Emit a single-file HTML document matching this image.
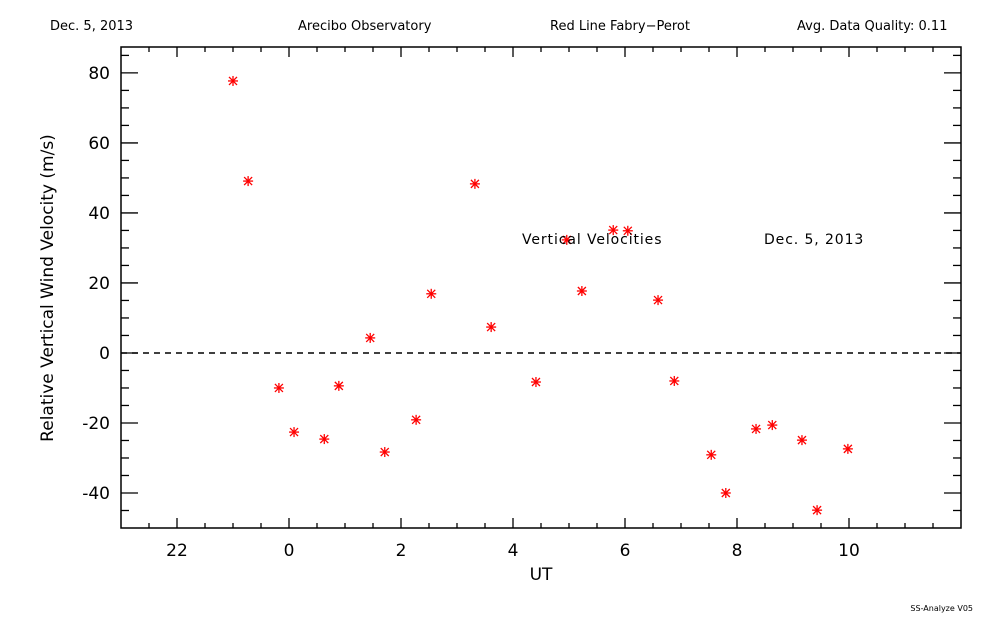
<!DOCTYPE html>
<html><head><meta charset="utf-8"><style>
body{margin:0;background:#fff;}
svg{display:block;font-family:"DejaVu Sans","Liberation Sans",sans-serif;}
</style></head><body>
<svg width="1000" height="625" viewBox="0 0 1000 625">
<g font-size="13" fill="#000">
<text x="50" y="30">Dec. 5, 2013</text>
<text x="298" y="30">Arecibo Observatory</text>
<text x="550" y="30">Red Line Fabry−Perot</text>
<text x="797" y="30">Avg. Data Quality: 0.11</text>
</g>
<rect x="121" y="47" width="840" height="481" fill="none" stroke="#000" stroke-width="1.5"/>
<g id="ticks"></g>
<line id="zero" stroke="#000" stroke-width="1.5" stroke-dasharray="6,5"/>
<g id="pts"></g>
<text x="522" y="244" font-size="14" letter-spacing="0.9">Vertical Velocities</text>
<text x="764" y="244" font-size="14" letter-spacing="0.9">Dec. 5, 2013</text>
<text x="541" y="580" font-size="17" text-anchor="middle">UT</text>
<text transform="translate(53,288) rotate(-90)" font-size="17" text-anchor="middle">Relative Vertical Wind Velocity (m/s)</text>
<text x="973" y="611" font-size="8" text-anchor="end">SS-Analyze V05</text>
</svg>
<script>
const xVals=[-1.0,-0.73,-0.18,0.09,0.63,0.89,1.45,1.71,2.27,2.54,3.32,3.61,4.41,4.96,5.23,5.79,6.05,6.59,6.88,7.54,7.80,8.34,8.63,9.16,9.43,9.98];
const yVals=[77.7,49.1,-10,-22.6,-24.6,-9.4,4.3,-28.3,-19.1,16.9,48.3,7.4,-8.3,32.3,17.7,35.1,34.9,15.1,-8,-29.1,-40,-21.7,-20.6,-24.9,-44.9,-27.4];
const xTickVals=[-2,0,2,4,6,8,10];
const xTickLabels=["22","0","2","4","6","8","10"];
const yTickVals=[-40,-20,0,20,40,60,80];
const X0=121,X1=961,Y0=47,Y1=528,XMIN=-3,XMAX=12,YMIN=-50,YMAX=87.4;
const sx=v=>X0+(v-XMIN)/(XMAX-XMIN)*(X1-X0);
const sy=v=>Y1-(v-YMIN)/(YMAX-YMIN)*(Y1-Y0);
const NS="http://www.w3.org/2000/svg";
const tg=document.getElementById('ticks');
function ln(p,x1,y1,x2,y2,name){const l=document.createElementNS(NS,'line');l.setAttribute('x1',x1);l.setAttribute('y1',y1);l.setAttribute('x2',x2);l.setAttribute('y2',y2);l.setAttribute('stroke','#000');l.setAttribute('stroke-width','1.3');


p.appendChild(l);}
function tx(p,x,y,s,anchor,name){const t=document.createElementNS(NS,'text');t.setAttribute('x',x);t.setAttribute('y',y);t.setAttribute('font-size','17');t.setAttribute('text-anchor',anchor);t.textContent=s;


p.appendChild(t);}
for(let v=-2.5;v<12;v+=0.5){const x=sx(v);const maj=xTickVals.includes(v);const L=maj?10:5;
ln(tg,x,Y1,x,Y1-L,'x-tick');ln(tg,x,Y0,x,Y0+L,'x-tick-top');}
xTickVals.forEach((v,i)=>tx(tg,sx(v),556,xTickLabels[i],'middle','x-tick-label'));
for(let v=-45;v<=85;v+=5){const y=sy(v);const maj=yTickVals.includes(v);const L=maj?17:8;
ln(tg,X0,y,X0+L,y,'y-tick');ln(tg,X1,y,X1-L,y,'y-tick-right');}
yTickVals.forEach(v=>tx(tg,110,sy(v)+6,String(v),'end','y-tick-label'));
const z=document.getElementById('zero');z.setAttribute('x1',X0);z.setAttribute('x2',X1);z.setAttribute('y1',sy(0));z.setAttribute('y2',sy(0));
const pg=document.getElementById('pts');
xVals.forEach((xv,i)=>{const cx=sx(xv),cy=sy(yVals[i]);const g=document.createElementNS(NS,'g');


[[-5,0,5,0],[0,-5,0,5],[-4,-4,4,4],[-4,4,4,-4]].forEach(d=>{const l=document.createElementNS(NS,'line');l.setAttribute('x1',cx+d[0]);l.setAttribute('y1',cy+d[1]);l.setAttribute('x2',cx+d[2]);l.setAttribute('y2',cy+d[3]);l.setAttribute('stroke','#f00');l.setAttribute('stroke-width','1.3');g.appendChild(l);});
pg.appendChild(g);});
</script>
</body></html>
